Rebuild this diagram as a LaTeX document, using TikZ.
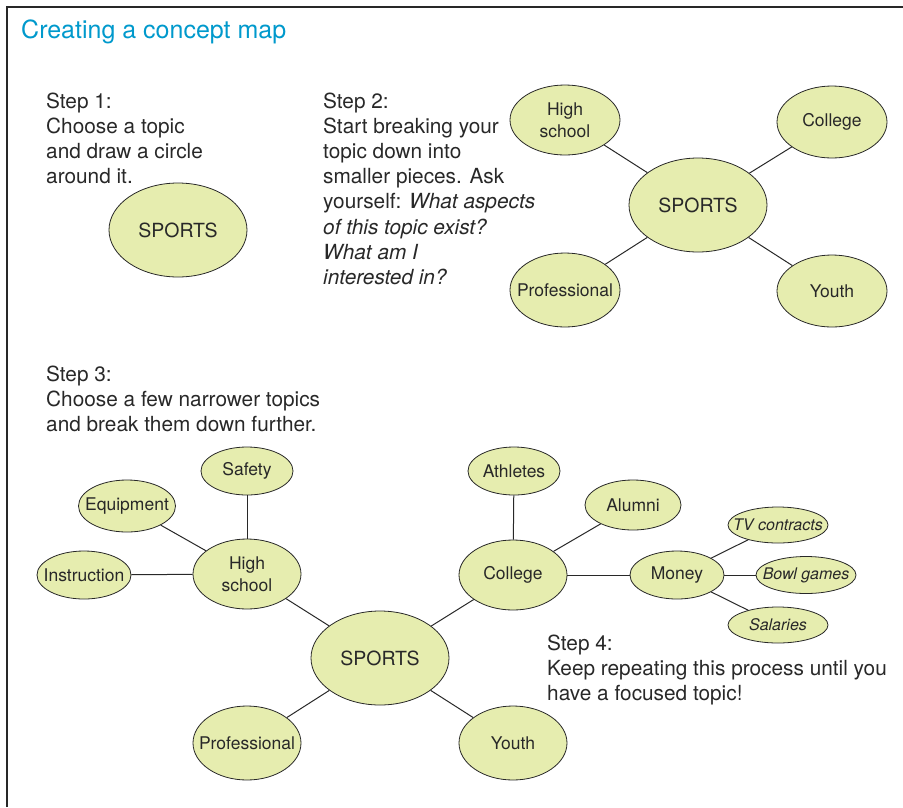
\documentclass[tikz,border=0pt]{standalone}
\usepackage{fontspec}
\setmainfont{TeX Gyre Heros}
\usetikzlibrary{shapes.geometric}
\definecolor{nodefill}{RGB}{230,237,175}
\definecolor{titleblue}{RGB}{0,153,204}
\definecolor{inkgray}{RGB}{40,40,40}
\tikzset{
  bub/.style={ellipse, draw=inkgray, line width=0.8pt, fill=nodefill, inner xsep=-40pt, inner ysep=-12pt, align=center, text=inkgray, font=\fontsize{17.5}{22}\selectfont},
  bigbub/.style={bub, font=\fontsize{19.5}{22}\selectfont},
  smallbub/.style={bub, font=\itshape\fontsize{16}{18}\selectfont},
  link/.style={draw=inkgray, line width=1pt},
  steptext/.style={anchor=base west, align=left, inner sep=0pt, text=inkgray, font=\fontsize{20.8}{25.2}\selectfont},
}
\begin{document}
\begin{tikzpicture}[x=1pt,y=1pt]
\useasboundingbox (0,0) rectangle (903,-807);
% frame
\draw[inkgray, line width=1.3pt] (7,-807) -- (7,-7) -- (903,-7);
\node[anchor=base west, inner sep=0pt, text=titleblue, font=\fontsize{25}{28}\selectfont] (title) at (21,-38) {Creating a concept map};

% Step 1 (anchor = baseline of last line)
\node[steptext] (s1) at (46,-183.6) {Step 1:\\Choose a topic\\and draw a circle\\around it.};
\node[bigbub, minimum width=138pt, minimum height=94pt] (sp1) at (178,-230) {SPORTS};

% Step 2
\node[steptext] (s2) at (323,-284.4) {Step 2:\\Start breaking your\\topic down into\\smaller pieces. Ask\\yourself: \textit{What aspects}\\\textit{of this topic exist?}\\\textit{What am I}\\\textit{interested in?}};
\node[bigbub, minimum width=138pt, minimum height=94pt] (sp2) at (698,-205) {SPORTS};
\node[bub, minimum width=110pt, minimum height=70pt] (hs2) at (565,-120) {High\\school};
\node[bub, minimum width=110pt, minimum height=72pt] (co2) at (832,-122) {College};
\node[bub, minimum width=110pt, minimum height=74pt] (pr2) at (565,-290) {Professional};
\node[bub, minimum width=110pt, minimum height=72pt] (yo2) at (832,-291) {Youth};
\draw[link] (sp2) -- (hs2);
\draw[link] (sp2) -- (co2);
\draw[link] (sp2) -- (pr2);
\draw[link] (sp2) -- (yo2);

% Step 3
\node[steptext] (s3) at (46,-431.4) {Step 3:\\Choose a few narrower topics\\and break them down further.};
\node[bigbub, minimum width=138pt, minimum height=94pt] (sp3) at (380,-658) {SPORTS};
\node[bub, minimum width=108pt, minimum height=70pt] (hs3) at (247,-574) {High\\school};
\node[bub, minimum width=92pt, minimum height=48pt] (sa3) at (247,-471) {Safety};
\node[bub, minimum width=97pt, minimum height=52pt] (eq3) at (127,-506) {Equipment};
\node[bub, minimum width=94pt, minimum height=48pt] (in3) at (84,-575) {Instruction};
\node[bub, minimum width=108pt, minimum height=74pt] (pr3) at (247,-743) {Professional};
\node[bub, minimum width=108pt, minimum height=74pt] (yo3) at (513,-743) {Youth};
\node[bub, minimum width=108pt, minimum height=70pt] (co3) at (513,-575) {College};
\node[bub, minimum width=92pt, minimum height=48pt] (at3) at (514,-471) {Athletes};
\node[bub, minimum width=96pt, minimum height=50pt] (al3) at (633,-505) {Alumni};
\node[bub, minimum width=94pt, minimum height=48pt] (mo3) at (677,-575) {Money};
\node[smallbub, minimum width=100pt, minimum height=36pt] (tv3) at (778,-525) {TV contracts};
\node[smallbub, minimum width=100pt, minimum height=37pt] (bg3) at (806,-575) {Bowl games};
\node[smallbub, minimum width=100pt, minimum height=36pt] (sl3) at (778,-625) {Salaries};
\draw[link] (sp3) -- (hs3);
\draw[link] (hs3) -- (sa3);
\draw[link] (hs3) -- (eq3);
\draw[link] (hs3) -- (in3);
\draw[link] (sp3) -- (pr3);
\draw[link] (sp3) -- (yo3);
\draw[link] (sp3) -- (co3);
\draw[link] (co3) -- (at3);
\draw[link] (co3) -- (al3);
\draw[link] (co3) -- (mo3);
\draw[link] (mo3) -- (tv3);
\draw[link] (mo3) -- (bg3);
\draw[link] (mo3) -- (sl3);

% Step 4
\node[steptext] (s4) at (547,-700.4) {Step 4:\\Keep repeating this process until you\\have a focused topic!};
\end{tikzpicture}
\end{document}
